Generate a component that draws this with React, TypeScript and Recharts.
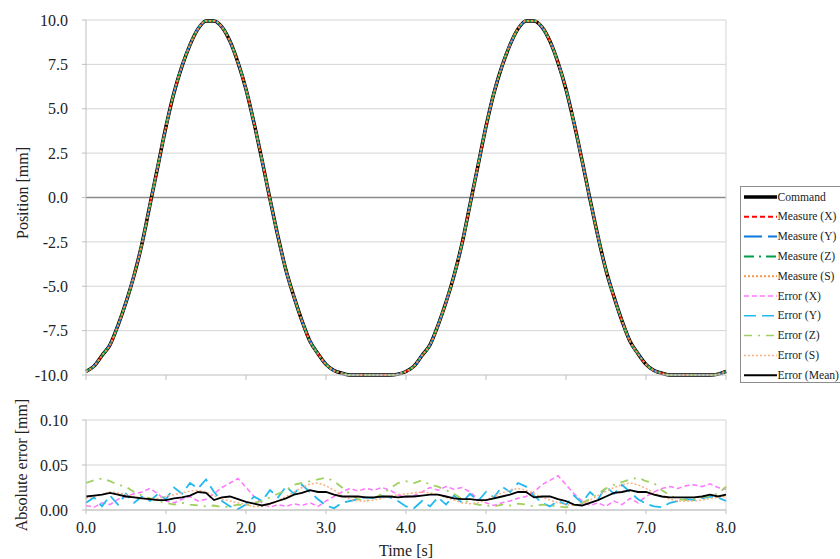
import React from 'react';
import { LineChart, Line, XAxis, YAxis, CartesianGrid, ReferenceLine, Label } from 'recharts';

const FONT = "'Liberation Serif', 'DejaVu Serif', serif";

// time axis [s]
const time = [
  0.0, 0.1, 0.2, 0.3, 0.4, 0.5, 0.6, 0.7, 0.8, 0.9,
  1.0, 1.1, 1.2, 1.3, 1.4, 1.5, 1.6, 1.7, 1.8, 1.9,
  2.0, 2.1, 2.2, 2.3, 2.4, 2.5, 2.6, 2.7, 2.8, 2.9,
  3.0, 3.1, 3.2, 3.3, 3.4, 3.5, 3.6, 3.7, 3.8, 3.9,
  4.0, 4.1, 4.2, 4.3, 4.4, 4.5, 4.6, 4.7, 4.8, 4.9,
  5.0, 5.1, 5.2, 5.3, 5.4, 5.5, 5.6, 5.7, 5.8, 5.9,
  6.0, 6.1, 6.2, 6.3, 6.4, 6.5, 6.6, 6.7, 6.8, 6.9,
  7.0, 7.1, 7.2, 7.3, 7.4, 7.5, 7.6, 7.7, 7.8, 7.9,
  8.0,
];

// commanded position [mm]
const commandPos = [
  -9.8, -9.5, -8.9, -8.3, -7.2, -5.9, -4.4, -2.6, -0.4, 1.8,
  4.0, 5.9, 7.4, 8.6, 9.5, 9.95, 9.95, 9.6, 8.8, 7.6,
  6.1, 4.2, 2.1, -0.1, -2.2, -4.1, -5.6, -6.95, -8.1, -8.8,
  -9.4, -9.75, -9.9, -10, -10, -10, -10, -10, -10, -9.95,
  -9.8, -9.5, -8.9, -8.3, -7.2, -5.9, -4.4, -2.6, -0.4, 1.8,
  4.0, 5.9, 7.4, 8.6, 9.5, 9.95, 9.95, 9.6, 8.8, 7.6,
  6.1, 4.2, 2.1, -0.1, -2.2, -4.1, -5.6, -6.95, -8.1, -8.8,
  -9.4, -9.75, -9.9, -10, -10, -10, -10, -10, -10, -9.95,
  -9.8,
];

// measured traces sit on top of the command at this scale
const measureXPos = commandPos;
const measureYPos = commandPos;
const measureZPos = commandPos;
const measureSPos = commandPos;

// absolute errors [mm]
const errorX = [
  0.005, 0.003, 0.008, 0.006, 0.012, 0.015, 0.018, 0.020, 0.024, 0.018,
  0.010, 0.008, 0.012, 0.015, 0.010, 0.012, 0.018, 0.025, 0.030, 0.035,
  0.025, 0.015, 0.008, 0.003, 0.006, 0.004, 0.007, 0.005, 0.008, 0.004,
  0.010, 0.015, 0.020, 0.024, 0.021, 0.024, 0.022, 0.025, 0.022, 0.017,
  0.014, 0.016, 0.020, 0.025, 0.022, 0.026, 0.023, 0.025, 0.020, 0.012,
  0.008, 0.005, 0.008, 0.010, 0.013, 0.015, 0.020, 0.028, 0.033, 0.038,
  0.028, 0.018, 0.010, 0.005, 0.008, 0.004, 0.010, 0.006, 0.013, 0.008,
  0.015, 0.020, 0.024, 0.026, 0.024, 0.027, 0.028, 0.026, 0.029, 0.025,
  0.023,
];
const errorY = [
  0.008, 0.014, 0.004, 0.016, 0.006, 0.018, 0.008, 0.015, 0.010, 0.018,
  0.012, 0.025, 0.018, 0.030, 0.024, 0.034, 0.020, 0.010, 0.004, 0.001,
  0.006, 0.015, 0.010, 0.022, 0.014, 0.026, 0.018, 0.028, 0.020, 0.012,
  0.005, 0.002, 0.008, 0.010, 0.012, 0.014, 0.013, 0.015, 0.014, 0.010,
  0.004, 0.002, 0.010, 0.004, 0.014, 0.006, 0.016, 0.008, 0.018, 0.010,
  0.020, 0.014, 0.026, 0.020, 0.030, 0.026, 0.016, 0.008, 0.004, 0.010,
  0.006, 0.016, 0.008, 0.020, 0.012, 0.026, 0.018, 0.028, 0.020, 0.012,
  0.007, 0.004, 0.003, 0.008, 0.010, 0.012, 0.011, 0.013, 0.015, 0.014,
  0.010,
];
const errorZ = [
  0.030, 0.033, 0.035, 0.032, 0.028, 0.026, 0.020, 0.016, 0.013, 0.010,
  0.008, 0.006, 0.008, 0.006, 0.005, 0.004, 0.005, 0.003, 0.004, 0.006,
  0.005, 0.008, 0.010, 0.014, 0.018, 0.022, 0.028, 0.030, 0.032, 0.034,
  0.036, 0.032, 0.025, 0.018, 0.012, 0.010, 0.013, 0.018, 0.024, 0.030,
  0.032, 0.030, 0.033, 0.028, 0.026, 0.022, 0.018, 0.012, 0.008, 0.006,
  0.005, 0.004, 0.006, 0.005, 0.007, 0.006, 0.004, 0.006, 0.005, 0.004,
  0.003, 0.005, 0.008, 0.012, 0.018, 0.024, 0.028, 0.031, 0.034, 0.036,
  0.032, 0.030, 0.022, 0.016, 0.012, 0.011, 0.012, 0.014, 0.016, 0.018,
  0.026,
];
const errorS = [
  0.013, 0.015, 0.017, 0.020, 0.019, 0.017, 0.015, 0.013, 0.012, 0.013,
  0.015, 0.017, 0.019, 0.021, 0.022, 0.020, 0.016, 0.012, 0.010, 0.008,
  0.006, 0.004, 0.004, 0.006, 0.010, 0.015, 0.020, 0.025, 0.029, 0.030,
  0.027, 0.022, 0.016, 0.012, 0.010, 0.010, 0.011, 0.013, 0.015, 0.017,
  0.018, 0.019, 0.020, 0.019, 0.017, 0.014, 0.011, 0.008, 0.007, 0.008,
  0.011, 0.015, 0.019, 0.022, 0.024, 0.022, 0.018, 0.014, 0.011, 0.008,
  0.006, 0.005, 0.007, 0.011, 0.016, 0.021, 0.025, 0.028, 0.030, 0.028,
  0.024, 0.019, 0.015, 0.012, 0.010, 0.010, 0.010, 0.011, 0.013, 0.014,
  0.015,
];
const errorMean = [
  0.015, 0.016, 0.017, 0.019, 0.017, 0.015, 0.014, 0.013, 0.012, 0.011,
  0.011, 0.013, 0.014, 0.016, 0.020, 0.019, 0.011, 0.014, 0.015, 0.012,
  0.009, 0.007, 0.005, 0.007, 0.010, 0.013, 0.017, 0.019, 0.022, 0.020,
  0.020, 0.017, 0.015, 0.015, 0.015, 0.014, 0.014, 0.015, 0.015, 0.014,
  0.015, 0.015, 0.016, 0.017, 0.017, 0.015, 0.013, 0.012, 0.012, 0.011,
  0.011, 0.013, 0.015, 0.017, 0.020, 0.020, 0.014, 0.015, 0.015, 0.012,
  0.010, 0.006, 0.005, 0.008, 0.011, 0.015, 0.019, 0.020, 0.022, 0.020,
  0.020, 0.017, 0.015, 0.014, 0.014, 0.014, 0.014, 0.015, 0.017, 0.015,
  0.017,
];

const xTicks = [0, 1, 2, 3, 4, 5, 6, 7, 8];
const posTicks = [-10, -7.5, -5, -2.5, 0, 2.5, 5, 7.5, 10];
const errTicks = [0, 0.05, 0.1];

const legendItems = [
  { name: 'Command', color: '#000000', width: 3.5, dash: undefined },
  { name: 'Measure (X)', color: '#ff0000', width: 2, dash: '5 3' },
  { name: 'Measure (Y)', color: '#0a78dc', width: 2, dash: '18 6' },
  { name: 'Measure (Z)', color: '#00a04a', width: 2, dash: '10 5 2 5' },
  { name: 'Measure (S)', color: '#f79646', width: 2, dash: '2 2' },
  { name: 'Error (X)', color: '#ff77ff', width: 1.5, dash: '5 3' },
  { name: 'Error (Y)', color: '#22b8f0', width: 1.5, dash: '12 6' },
  { name: 'Error (Z)', color: '#9fd060', width: 1.5, dash: '8 6 2 6' },
  { name: 'Error (S)', color: '#fbb080', width: 1.5, dash: '2 2' },
  { name: 'Error (Mean)', color: '#000000', width: 2, dash: undefined },
];

const posData = time.map((t, i) => ({
  t,
  command: commandPos[i],
  measureX: measureXPos[i],
  measureY: measureYPos[i],
  measureZ: measureZPos[i],
  measureS: measureSPos[i],
}));

const errData = time.map((t, i) => ({
  t,
  errX: errorX[i],
  errY: errorY[i],
  errZ: errorZ[i],
  errS: errorS[i],
  errMean: errorMean[i],
}));

const tickStyle = { fill: '#222', fontSize: 16, fontFamily: FONT };

const rotatedLabel = (text: string, cx: number, cy: number) => () => (
  <text
    x={cx}
    y={cy}
    transform={`rotate(-90, ${cx}, ${cy})`}
    textAnchor="middle"
    dominantBaseline="central"
    style={{ fontFamily: FONT, fontSize: 16 }}
    fill="#222"
  >
    {text}
  </text>
);

function LegendBox() {
  return (
    <div
      style={{
        position: 'absolute',
        left: 740,
        top: 186,
        width: 110,
        height: 197,
        border: '1px solid #8c8c8c',
        background: '#fff',
        boxSizing: 'border-box',
      }}
    >
      <svg width={110} height={195} style={{ display: 'block' }}>
        {legendItems.map((it, i) => {
          const y = 10 + i * 19.8;
          return (
            <g key={it.name}>
              <line x1={3} x2={36} y1={y} y2={y} stroke={it.color} strokeWidth={it.width} strokeDasharray={it.dash} />
              <text x={36.5} y={y} dominantBaseline="central" style={{ fontFamily: FONT, fontSize: 11.6 }} fill="#222">
                {it.name}
              </text>
            </g>
          );
        })}
      </svg>
    </div>
  );
}

export default function App() {
  return (
    <div
      style={{
        position: 'absolute',
        left: 0,
        top: 0,
        width: 840,
        height: 559,
        overflow: 'hidden',
        background: '#fff',
        fontFamily: FONT,
      }}
    >
      <LineChart width={840} height={395} data={posData} margin={{ top: 20, right: 114, left: 0, bottom: 0 }}>
        <CartesianGrid vertical={false} stroke="#d4d4d4" />
        <XAxis
          type="number"
          dataKey="t"
          domain={[0, 8]}
          ticks={xTicks}
          tickFormatter={() => ''}
          tickSize={5}
          tickLine={{ stroke: '#bfbfbf' }}
          axisLine={{ stroke: '#d4d4d4' }}
          height={20}
        />
        <YAxis
          domain={[-10, 10]}
          ticks={posTicks}
          tickFormatter={(v: number) => v.toFixed(1)}
          tick={tickStyle}
          tickSize={4}
          tickMargin={14}
          tickLine={{ stroke: '#bfbfbf' }}
          axisLine={{ stroke: '#bfbfbf' }}
          width={86}
          interval={0}
        >
          <Label content={rotatedLabel('Position [mm]', 22, 193)} />
        </YAxis>
        <ReferenceLine y={0} stroke="#8a8a8a" strokeWidth={1.5} />
        <ReferenceLine x={8} stroke="#d4d4d4" />
        <Line type="monotone" dataKey="command" name="Command" stroke="#000" strokeWidth={3.5} dot={false} isAnimationActive={false} />
        <Line type="monotone" dataKey="measureX" name="Measure (X)" stroke="#ff0000" strokeWidth={2} strokeDasharray="5 3" dot={false} isAnimationActive={false} />
        <Line type="monotone" dataKey="measureY" name="Measure (Y)" stroke="#0a78dc" strokeWidth={2} strokeDasharray="18 6" dot={false} isAnimationActive={false} />
        <Line type="monotone" dataKey="measureZ" name="Measure (Z)" stroke="#00a04a" strokeWidth={2} strokeDasharray="10 5 2 5" dot={false} isAnimationActive={false} />
        <Line type="monotone" dataKey="measureS" name="Measure (S)" stroke="#f79646" strokeWidth={2} strokeDasharray="2 2" dot={false} isAnimationActive={false} />
      </LineChart>
      <LineChart width={840} height={164} data={errData} margin={{ top: 25, right: 114, left: 0, bottom: 0 }}>
        <CartesianGrid vertical={false} stroke="#d4d4d4" />
        <XAxis
          type="number"
          dataKey="t"
          domain={[0, 8]}
          ticks={xTicks}
          tickFormatter={(v: number) => v.toFixed(1)}
          tick={tickStyle}
          tickSize={4}
          tickMargin={8}
          tickLine={{ stroke: '#bfbfbf' }}
          axisLine={{ stroke: '#bfbfbf' }}
          height={49}
          interval={0}
        >
          <Label value="Time [s]" position="insideBottom" offset={3} style={{ fill: '#222', fontSize: 16, fontFamily: FONT }} />
        </XAxis>
        <YAxis
          domain={[0, 0.1]}
          ticks={errTicks}
          tickFormatter={(v: number) => v.toFixed(2)}
          tick={tickStyle}
          tickSize={4}
          tickMargin={14}
          tickLine={{ stroke: '#bfbfbf' }}
          axisLine={{ stroke: '#bfbfbf' }}
          width={86}
          interval={0}
        >
          <Label content={rotatedLabel('Absolute error [mm]', 21, 70)} />
        </YAxis>
        <ReferenceLine x={8} stroke="#d4d4d4" />
        <Line type="linear" dataKey="errX" stroke="#ff77ff" strokeWidth={1.5} strokeDasharray="5 3" dot={false} isAnimationActive={false} />
        <Line type="linear" dataKey="errY" stroke="#22b8f0" strokeWidth={1.8} strokeDasharray="12 6" dot={false} isAnimationActive={false} />
        <Line type="linear" dataKey="errZ" stroke="#9fd060" strokeWidth={1.8} strokeDasharray="8 6 2 6" dot={false} isAnimationActive={false} />
        <Line type="linear" dataKey="errS" stroke="#fbb080" strokeWidth={1.5} strokeDasharray="2 2" dot={false} isAnimationActive={false} />
        <Line type="linear" dataKey="errMean" stroke="#000" strokeWidth={1.8} dot={false} isAnimationActive={false} />
      </LineChart>
      <LegendBox />
    </div>
  );
}
